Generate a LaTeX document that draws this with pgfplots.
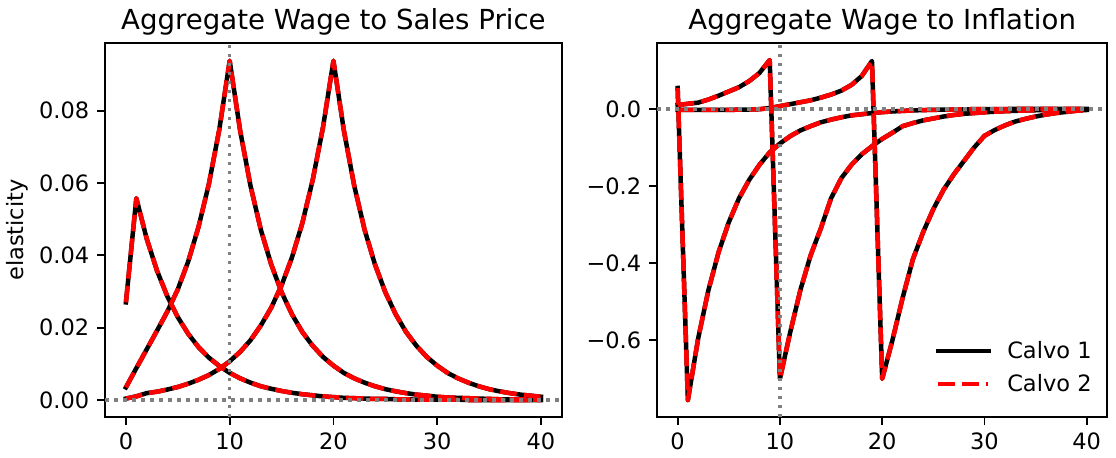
\documentclass[border=0pt]{standalone}
\usepackage{fontspec}
\setmainfont{DejaVu Sans}
\usepackage{pgfplots}
\usepackage{pgfplotstable}
\pgfplotsset{compat=1.18}

% elasticity of the aggregate wage to a sales-price shock at t = 0, 10, 20
\pgfplotstableread{
t a b c
0 0.0270 0.0035 0.0004
1 0.0558 0.0088 0.0010
2 0.0446 0.0140 0.0019
3 0.0357 0.0192 0.0023
4 0.0286 0.0245 0.0029
5 0.0229 0.0306 0.0036
6 0.0183 0.0383 0.0045
7 0.0146 0.0479 0.0056
8 0.0117 0.0598 0.0069
9 0.0094 0.0748 0.0086
10 0.0075 0.0938 0.0107
11 0.0060 0.0746 0.0133
12 0.0048 0.0593 0.0165
13 0.0038 0.0471 0.0206
14 0.0031 0.0375 0.0255
15 0.0025 0.0298 0.0317
16 0.0020 0.0237 0.0394
17 0.0016 0.0188 0.0489
18 0.0013 0.0150 0.0608
19 0.0010 0.0119 0.0755
20 0.0008 0.0095 0.0938
21 0.0006 0.0075 0.0746
22 0.0005 0.0060 0.0593
23 0.0004 0.0048 0.0471
24 0.0003 0.0038 0.0375
25 0.0003 0.0030 0.0298
26 0.0002 0.0024 0.0237
27 0.0002 0.0019 0.0188
28 0.0001 0.0015 0.0150
29 0.0001 0.0012 0.0119
30 0.0001 0.0009 0.0095
31 0.0001 0.0007 0.0075
32 0.0001 0.0006 0.0060
33 0.0000 0.0005 0.0048
34 0.0000 0.0004 0.0038
35 0.0000 0.0003 0.0030
36 0.0000 0.0002 0.0024
37 0.0000 0.0002 0.0019
38 0.0000 0.0002 0.0015
39 0.0000 0.0001 0.0012
40 0.0000 0.0001 0.0009
}\wagesales

% elasticity of the aggregate wage to an inflation shock at t = 0, 10, 20
\pgfplotstableread{
t a b c
0 0.054 0.010 -0.003
1 -0.755 0.013 -0.003
2 -0.596 0.016 -0.003
3 -0.471 0.024 -0.003
4 -0.372 0.034 -0.003
5 -0.294 0.045 -0.003
6 -0.232 0.056 -0.002
7 -0.184 0.072 -0.002
8 -0.145 0.093 -0.001
9 -0.113 0.1265 0.002
10 -0.090 -0.700 0.007
11 -0.071 -0.580 0.012
12 -0.056 -0.470 0.017
13 -0.045 -0.380 0.022
14 -0.035 -0.310 0.029
15 -0.028 -0.232 0.037
16 -0.022 -0.180 0.047
17 -0.017 -0.145 0.062
18 -0.014 -0.118 0.085
19 -0.011 -0.097 0.124
20 -0.0086 -0.078 -0.700
21 -0.0068 -0.062 -0.600
22 -0.0054 -0.045 -0.490
23 -0.0042 -0.037 -0.390
24 -0.0033 -0.030 -0.320
25 -0.0026 -0.025 -0.260
26 -0.0021 -0.020 -0.210
27 -0.0017 -0.016 -0.170
28 -0.0013 -0.013 -0.135
29 -0.0010 -0.011 -0.100
30 -0.0008 -0.009 -0.070
31 -0.0006 -0.0075 -0.055
32 -0.0005 -0.0062 -0.043
33 -0.0004 -0.0052 -0.033
34 -0.0003 -0.0044 -0.026
35 -0.0003 -0.0037 -0.020
36 -0.0002 -0.0031 -0.015
37 -0.0002 -0.0026 -0.011
38 -0.0001 -0.0022 -0.008
39 -0.0001 -0.0019 -0.005
40 -0.0001 -0.0016 -0.003
}\wageinfl

\tikzset{
  calvo1/.style={black, line width=2.25pt, line join=round, line cap=rect},
  calvo2/.style={red, line width=2.25pt, line join=round, dash pattern=on 8.3pt off 3.6pt},
  refline/.style={gray, line width=1.7pt, dash pattern=on 1.7pt off 2.8pt},
}

\pgfplotsset{
  panel/.style={
    scale only axis,
    height=187pt,
    xmin=-2, xmax=42,
    axis line style={line width=0.9pt, black},
    tick style={line width=0.9pt, black},
    major tick length=3.9pt,
    tick align=outside,
    tick pos=left,
    xtick={0,10,20,30,40},
    xticklabels={0,10,20,30,40},
    scaled y ticks=false,
    ticklabel style={font=\fontsize{11.25}{13.5}\selectfont, inner sep=0pt},
    xticklabel style={yshift=-3.9pt},
    yticklabel style={xshift=-3.9pt},
    every axis title shift=0pt,
    title style={at={(0.5,1)}, anchor=base, yshift=6.7pt,
      inner sep=0pt, font=\fontsize{13.8}{16}\selectfont},
    legend image code/.code={\draw[##1] (0pt,0pt) -- (25pt,0pt);},
  },
}

\begin{document}
\begin{tikzpicture}
\useasboundingbox (0,0) rectangle (558pt,228.5pt);

\begin{axis}[panel,
  at={(52.6pt,20pt)}, anchor=south west,
  width=228.25pt,
  ymin=-0.0047, ymax=0.0987,
  ytick={0,0.02,0.04,0.06,0.08},
  yticklabels={0.00,0.02,0.04,0.06,0.08},
  title={Aggregate Wage to Sales Price},
  ylabel={elasticity},
  ylabel style={at={([xshift=-43.9pt]axis description cs:0,0.5)}, anchor=center,
    inner sep=0pt, font=\fontsize{11.25}{13.5}\selectfont},
]
\addplot[calvo1] table[x=t, y=a] {\wagesales};
\addplot[calvo1] table[x=t, y=b] {\wagesales};
\addplot[calvo1] table[x=t, y=c] {\wagesales};
\addplot[calvo2] table[x=t, y=a] {\wagesales};
\addplot[calvo2] table[x=t, y=b] {\wagesales};
\addplot[calvo2] table[x=t, y=c] {\wagesales};
\draw[refline] (axis cs:-2,0) -- (axis cs:42,0);
\draw[refline] (axis cs:10,-0.0047) -- (axis cs:10,0.0987);
\end{axis}

\begin{axis}[panel,
  at={(328.6pt,20pt)}, anchor=south west,
  width=225pt,
  ymin=-0.799, ymax=0.1706,
  ytick={-0.6,-0.4,-0.2,0},
  yticklabels={−0.6,−0.4,−0.2,0.0},
  title={Aggregate Wage to Inflation},
  legend style={draw=none, fill=none, inner sep=0pt, outer sep=0pt,
    at={([xshift=-7.8pt, yshift=11.5pt]axis description cs:1,0)}, anchor=south east,
    font=\fontsize{11.25}{13.5}\selectfont,
    row sep=6.4pt, column sep=8.3pt,
    nodes={inner sep=0pt}},
  legend cell align=left,
]
\addplot[calvo1] table[x=t, y=a] {\wageinfl};
\addlegendentry{Calvo 1}
\addplot[calvo1, forget plot] table[x=t, y=b] {\wageinfl};
\addplot[calvo1, forget plot] table[x=t, y=c] {\wageinfl};
\addplot[calvo2] table[x=t, y=a] {\wageinfl};
\addlegendentry{Calvo 2}
\addplot[calvo2, forget plot] table[x=t, y=b] {\wageinfl};
\addplot[calvo2, forget plot] table[x=t, y=c] {\wageinfl};
\draw[refline] (axis cs:-2,0) -- (axis cs:42,0);
\draw[refline] (axis cs:10,-0.799) -- (axis cs:10,0.1706);
\end{axis}
\end{tikzpicture}
\end{document}
